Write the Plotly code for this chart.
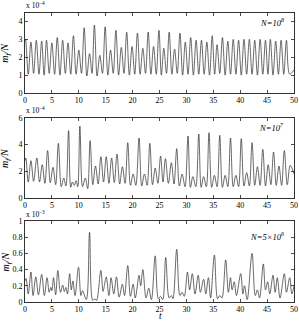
import plotly.graph_objects as go

# ---------------- data ----------------
T_TICKS = [0, 5, 10, 15, 20, 25, 30, 35, 40, 45, 50]

# Panel 1 : N = 10^8  (units of 1e-4)
P1_PEAK_T = [0.1, 1.1, 2.1, 3.1, 4.0, 5.0, 6.0, 7.0, 8.0, 9.0,
             10.0, 11.0, 12.0, 12.9, 13.9, 14.9, 15.9, 16.9, 17.9, 18.9,
             19.9, 20.9, 21.9, 22.9, 23.9, 24.9, 25.8, 26.8, 27.8, 28.8,
             29.8, 30.8, 31.8, 32.8, 33.8, 34.8, 35.7, 36.7, 37.7, 38.7,
             39.7, 40.7, 41.7, 42.7, 43.7, 44.7, 45.6, 46.6, 47.6, 48.6]
P1_PEAK_V = [3.0, 2.85, 2.95, 2.9, 2.95, 2.8, 3.1, 2.95, 2.8, 3.2,
             2.4, 3.65, 2.2, 3.8, 2.1, 3.7, 2.4, 3.5, 2.55, 3.4,
             2.6, 3.35, 2.5, 3.4, 2.6, 3.5, 2.5, 3.4, 2.45, 3.35,
             2.85, 3.1, 2.95, 2.95, 2.85, 3.2, 2.7, 3.1, 2.9, 3.0,
             2.95, 3.0, 3.0, 2.95, 3.0, 2.95, 3.0, 2.9, 2.95, 2.95]
P1_TROUGH_T = [0.6, 1.6, 2.6, 3.55, 4.5, 5.5, 6.5, 7.5, 8.5, 9.5,
               10.5, 11.5, 12.45, 13.4, 14.4, 15.4, 16.4, 17.4, 18.4, 19.4,
               20.4, 21.4, 22.4, 23.4, 24.4, 25.35, 26.3, 27.3, 28.3, 29.3,
               30.3, 31.3, 32.3, 33.3, 34.3, 35.25, 36.2, 37.2, 38.2, 39.2,
               40.2, 41.2, 42.2, 43.2, 44.2, 45.15, 46.1, 47.1, 48.1, 49.2]
P1_TROUGH_V = [1.05, 1.1, 1.05, 1.0, 1.1, 1.05, 1.0, 1.1, 1.05, 1.05,
               1.1, 0.95, 1.1, 0.95, 1.1, 1.0, 1.1, 1.0, 1.1, 1.0,
               1.05, 1.05, 1.1, 1.05, 1.05, 1.0, 1.1, 1.05, 1.1, 1.0,
               1.05, 1.0, 1.05, 1.05, 1.0, 1.05, 1.1, 1.0, 1.05, 1.05,
               1.0, 1.05, 1.05, 1.0, 1.05, 1.05, 1.0, 1.05, 1.05, 1.05]
P1_EDGE_T = [0.0, 50.0]
P1_EDGE_V = [2.9, 1.3]

# Panel 2 : N = 10^7  (units of 1e-4)
P2_T = [0.0, 0.15, 0.6, 1.1, 1.6, 2.2, 2.7, 3.2, 3.7, 4.2,
        4.7, 5.2, 5.7, 6.2, 6.75, 7.2, 7.6, 8.1, 8.5, 8.8,
        9.15, 9.5, 9.8, 10.2, 10.7, 11.2, 11.65, 12.1, 12.6, 13.1,
        13.6, 14.1, 14.6, 15.1, 15.6, 16.1, 16.6, 17.1, 17.6, 18.1,
        18.6, 19.1, 19.6, 20.1, 20.6, 21.2, 21.7, 22.2, 22.7, 23.2,
        23.7, 24.2, 24.7, 25.2, 25.65, 26.1, 26.65, 27.2, 27.7, 28.2,
        28.7, 29.2, 29.75, 30.3, 30.75, 31.2, 31.75, 32.3, 32.75, 33.2,
        33.7, 34.2, 34.7, 35.2, 35.7, 36.2, 36.7, 37.2, 37.7, 38.2,
        38.7, 39.2, 39.7, 40.2, 40.7, 41.2, 41.7, 42.2, 42.7, 43.2,
        43.7, 44.2, 44.7, 45.2, 45.7, 46.2, 46.7, 47.2, 47.7, 48.2,
        48.75, 49.3, 50.0]
P2_V = [2.8, 3.0, 1.2, 2.8, 1.25, 3.0, 1.2, 2.5, 1.1, 3.55,
        1.15, 2.3, 1.0, 4.1, 0.85, 1.5, 0.9, 5.05, 0.8, 1.2,
        0.95, 1.3, 0.85, 5.4, 0.85, 1.5, 0.7, 4.3, 1.0, 2.4,
        1.05, 3.1, 1.2, 3.1, 1.1, 3.0, 1.15, 3.3, 1.05, 2.35,
        1.1, 4.15, 0.95, 1.8, 0.95, 4.5, 0.9, 1.8, 0.95, 4.1,
        1.0, 2.25, 1.1, 3.15, 1.2, 2.95, 1.1, 2.65, 1.05, 3.7,
        0.9, 1.8, 0.85, 4.65, 0.8, 1.6, 0.85, 4.8, 0.8, 1.6,
        0.85, 4.9, 0.8, 1.7, 0.85, 4.7, 0.8, 1.7, 0.85, 4.5,
        0.85, 1.7, 0.85, 4.45, 0.9, 1.9, 0.9, 4.15, 0.95, 2.35,
        0.95, 3.65, 0.9, 2.5, 1.0, 3.45, 0.95, 2.4, 0.95, 3.55,
        1.0, 2.45, 1.8]

# Panel 3 : N = 5x10^6  (units of 1e-3)
P3_T = [0.0, 0.2, 0.6, 1.1, 1.5, 2.0, 2.5, 3.1, 3.6, 4.1,
        4.5, 4.8, 5.0, 5.3, 5.7, 6.1, 6.6, 7.0, 7.3, 7.6,
        7.9, 8.3, 8.6, 8.9, 9.3, 9.95, 10.4, 10.7, 11.4, 12.0,
        12.6, 13.0, 13.3, 14.1, 14.5, 14.8, 15.1, 15.6, 16.0, 16.5,
        17.0, 17.5, 18.1, 18.5, 19.1, 19.6, 20.1, 20.5, 21.2, 21.5,
        21.9, 22.5, 23.0, 23.5, 24.2, 24.8, 25.2, 25.6, 26.15, 26.8,
        27.2, 27.5, 28.2, 28.8, 29.2, 29.6, 30.2, 30.6, 31.1, 31.6,
        32.2, 32.6, 33.2, 33.6, 34.1, 34.5, 35.2, 35.8, 36.2, 36.6,
        37.3, 37.8, 38.2, 38.5, 38.9, 39.3, 40.1, 40.5, 40.8, 41.3,
        42.2, 42.8, 43.2, 43.6, 44.3, 44.7, 45.1, 45.5, 46.1, 46.5,
        46.9, 47.4, 48.2, 48.6, 49.2, 49.6, 50.0]
P3_V = [0.26, 0.29, 0.10, 0.37, 0.08, 0.31, 0.09, 0.34, 0.08, 0.30,
        0.12, 0.18, 0.14, 0.30, 0.09, 0.39, 0.12, 0.21, 0.13, 0.18,
        0.10, 0.35, 0.15, 0.26, 0.08, 0.43, 0.08, 0.14, 0.03, 0.86,
        0.02, 0.04, 0.02, 0.39, 0.13, 0.22, 0.31, 0.08, 0.30, 0.10,
        0.31, 0.06, 0.22, 0.08, 0.45, 0.07, 0.22, 0.05, 0.33, 0.20,
        0.40, 0.05, 0.17, 0.03, 0.57, 0.04, 0.07, 0.03, 0.55, 0.05,
        0.08, 0.04, 0.65, 0.08, 0.12, 0.07, 0.37, 0.15, 0.35, 0.10,
        0.33, 0.12, 0.28, 0.10, 0.30, 0.05, 0.58, 0.04, 0.08, 0.05,
        0.52, 0.12, 0.30, 0.15, 0.25, 0.08, 0.35, 0.10, 0.20, 0.03,
        0.60, 0.08, 0.15, 0.05, 0.47, 0.15, 0.25, 0.10, 0.33, 0.12,
        0.30, 0.05, 0.35, 0.12, 0.30, 0.10, 0.20]

Y1_TICKS = [0, 1, 2, 3, 4]
Y2_TICKS = [0, 2, 4, 6]
Y3_TICKS = [0, 0.2, 0.4, 0.6, 0.8, 1]
Y3_LABELS = ["0", "0.2", "0.4", "0.6", "0.8", "1"]

# ---------------- build ----------------
p1 = sorted(zip(P1_PEAK_T + P1_TROUGH_T + P1_EDGE_T,
                P1_PEAK_V + P1_TROUGH_V + P1_EDGE_V))
P1_T = [a for a, b in p1]
P1_V = [b for a, b in p1]

W, H = 299, 322
ML, MR = 25, 5
PW = W - ML - MR


def py(px):
    return 1 - px / H


def pxx(px):
    return (px - ML) / PW


FONT = "Liberation Serif"
LINE = dict(color="#2a2a2a", width=0.7, shape="spline", smoothing=1.0)

fig = go.Figure()
fig.add_trace(go.Scatter(x=P1_T, y=P1_V, mode="lines", line=LINE, xaxis="x", yaxis="y",
                         hoverinfo="skip"))
fig.add_trace(go.Scatter(x=P2_T, y=P2_V, mode="lines", line=LINE, xaxis="x2", yaxis="y2",
                         hoverinfo="skip"))
fig.add_trace(go.Scatter(x=P3_T, y=P3_V, mode="lines", line=LINE, xaxis="x3", yaxis="y3",
                         hoverinfo="skip"))

axis_common = dict(showline=True, linecolor="black", linewidth=0.8, mirror="ticks",
                   ticks="inside", ticklen=3, tickwidth=0.7, tickcolor="black",
                   showgrid=False, zeroline=False, ticklabeloverflow="allow",
                   automargin=False,
                   tickfont=dict(family=FONT, size=8, color="black"))

domains = [(93, 12.5), (198, 118), (302, 221)]
yranges = [[0, 4.5], [0, 6], [0, 1]]
yticks = [(Y1_TICKS, [str(v) for v in Y1_TICKS]),
          (Y2_TICKS, [str(v) for v in Y2_TICKS]),
          (Y3_TICKS, Y3_LABELS)]

lay = {}
for i in range(3):
    s = "" if i == 0 else str(i + 1)
    lay["xaxis" + s] = dict(axis_common, range=[0, 50], tickvals=T_TICKS,
                            ticktext=[str(v) for v in T_TICKS],
                            anchor="y" + s, domain=[0, 1])
    lay["yaxis" + s] = dict(axis_common, range=yranges[i], tickvals=yticks[i][0],
                            ticktext=yticks[i][1], anchor="x" + s,
                            domain=[py(domains[i][0]), py(domains[i][1])])

annotations = []
ylab = "<i>m</i><sub><i>f</i></sub><i>/N</i>"
for i, (lab, scale, ty, sy) in enumerate([
        ("<i>N=10<sup>8</sup></i>", "x 10<sup>−4</sup>", 22, 5),
        ("<i>N=10<sup>7</sup></i>", "x 10<sup>−4</sup>", 128, 110),
        ("<i>N=5×10<sup>6</sup></i>", "x 10<sup>−3</sup>", 236, 214)]):
    annotations.append(dict(xref="paper", yref="paper", x=pxx(286), y=py(ty),
                            xanchor="right", yanchor="middle", showarrow=False,
                            text=lab, font=dict(family=FONT, size=8.5, color="black")))
    annotations.append(dict(xref="paper", yref="paper", x=pxx(24), y=py(sy),
                            xanchor="left", yanchor="middle", showarrow=False,
                            text=scale, font=dict(family=FONT, size=7.5, color="black")))
    yc = (domains[i][0] + domains[i][1]) / 2
    annotations.append(dict(xref="paper", yref="paper", x=pxx(6), y=py(yc),
                            xanchor="center", yanchor="middle", showarrow=False,
                            textangle=-90, text=ylab,
                            font=dict(family=FONT, size=10, color="black")))
annotations.append(dict(xref="paper", yref="paper", x=pxx(160), y=0,
                        xanchor="center", yanchor="bottom", showarrow=False,
                        height=11, valign="middle", borderpad=0,
                        text="<i>t</i>", font=dict(family=FONT, size=9.5, color="black")))

fig.update_layout(width=W, height=H, margin=dict(l=ML, r=MR, t=0, b=0, pad=0),
                  paper_bgcolor="white", plot_bgcolor="white", showlegend=False,
                  hovermode=False, annotations=annotations, **lay)

fig.write_html("out.html", config={"displayModeBar": False, "staticPlot": True},
               post_script="document.body.style.margin='0';"
                           "document.body.style.overflow='hidden';")
